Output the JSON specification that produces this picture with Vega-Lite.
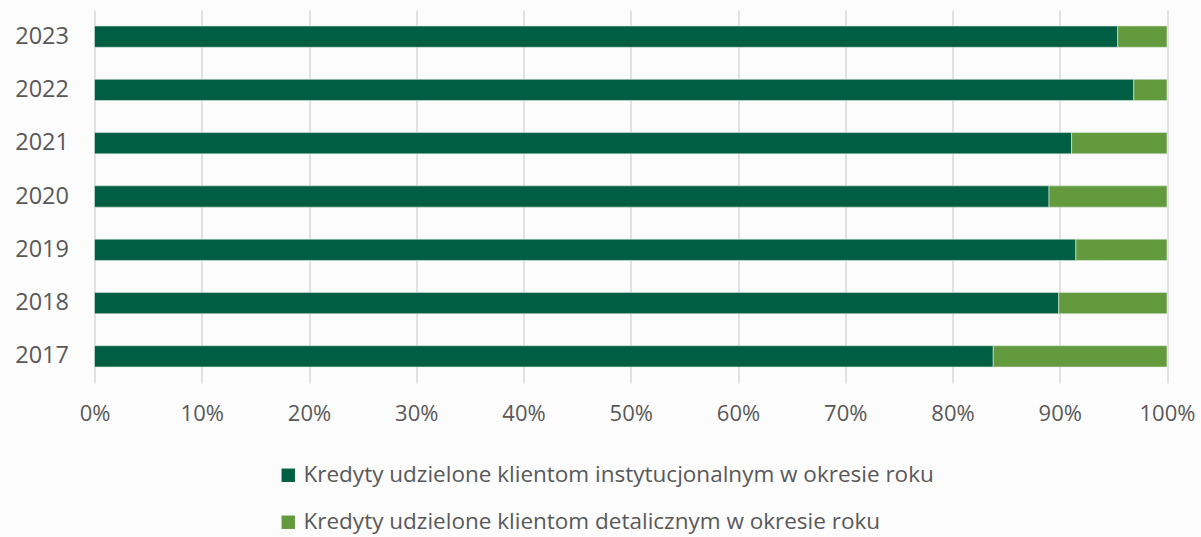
{
  "$schema": "https://vega.github.io/schema/vega-lite/v6.json",
  "width": 1072.5,
  "height": 373,
  "autosize": {"type": "none"},
  "padding": {"left": 94.5, "top": 10, "right": 34, "bottom": 154},
  "background": "#fcfcfc",
  "data": {
    "values": [
      {"year": "2023", "k": 1, "category": "Kredyty udzielone klientom instytucjonalnym w okresie roku", "share": 0.954},
      {"year": "2023", "k": 2, "category": "Kredyty udzielone klientom detalicznym w okresie roku", "share": 0.046},
      {"year": "2022", "k": 1, "category": "Kredyty udzielone klientom instytucjonalnym w okresie roku", "share": 0.969},
      {"year": "2022", "k": 2, "category": "Kredyty udzielone klientom detalicznym w okresie roku", "share": 0.031},
      {"year": "2021", "k": 1, "category": "Kredyty udzielone klientom instytucjonalnym w okresie roku", "share": 0.911},
      {"year": "2021", "k": 2, "category": "Kredyty udzielone klientom detalicznym w okresie roku", "share": 0.089},
      {"year": "2020", "k": 1, "category": "Kredyty udzielone klientom instytucjonalnym w okresie roku", "share": 0.890},
      {"year": "2020", "k": 2, "category": "Kredyty udzielone klientom detalicznym w okresie roku", "share": 0.110},
      {"year": "2019", "k": 1, "category": "Kredyty udzielone klientom instytucjonalnym w okresie roku", "share": 0.915},
      {"year": "2019", "k": 2, "category": "Kredyty udzielone klientom detalicznym w okresie roku", "share": 0.085},
      {"year": "2018", "k": 1, "category": "Kredyty udzielone klientom instytucjonalnym w okresie roku", "share": 0.899},
      {"year": "2018", "k": 2, "category": "Kredyty udzielone klientom detalicznym w okresie roku", "share": 0.101},
      {"year": "2017", "k": 1, "category": "Kredyty udzielone klientom instytucjonalnym w okresie roku", "share": 0.838},
      {"year": "2017", "k": 2, "category": "Kredyty udzielone klientom detalicznym w okresie roku", "share": 0.162}
    ]
  },
  "mark": {"type": "bar", "stroke": "#dfe9df", "strokeWidth": 0.6},
  "encoding": {
    "y": {
      "field": "year", "type": "ordinal", "sort": "descending",
      "scale": {"paddingInner": 0.6, "paddingOuter": 0.3},
      "axis": {"title": null, "domain": false, "ticks": false, "grid": false, "labelPadding": 26, "labelFont": "Open Sans", "labelFontSize": 23.5, "labelColor": "#595959"}
    },
    "x": {
      "field": "share", "type": "quantitative", "stack": true,
      "scale": {"domain": [0, 1], "nice": false},
      "axis": {"title": null, "format": ".0%", "values": [0, 0.1, 0.2, 0.3, 0.4, 0.5, 0.6, 0.7, 0.8, 0.9, 1], "domain": false, "ticks": false, "grid": true, "gridColor": "#d9d9d9", "gridWidth": 1.5, "labelPadding": 20, "labelFont": "Open Sans", "labelFontSize": 22, "labelColor": "#595959", "labelFlush": false}
    },
    "order": {"field": "k", "type": "quantitative"},
    "color": {
      "field": "category", "type": "nominal",
      "scale": {
        "domain": ["Kredyty udzielone klientom instytucjonalnym w okresie roku", "Kredyty udzielone klientom detalicznym w okresie roku"],
        "range": ["#005e43", "#639a3e"]
      },
      "legend": {
        "title": null, "orient": "none", "legendX": 182.5, "legendY": 454, "direction": "vertical",
        "symbolType": "square", "symbolSize": 180, "symbolStrokeWidth": 0, "symbolOpacity": 1,
        "labelFont": "Open Sans", "labelFontSize": 22.5, "labelColor": "#595959", "labelLimit": 900, "rowPadding": 24, "labelOffset": 4
      }
    }
  },
  "config": {"view": {"stroke": null}}
}
